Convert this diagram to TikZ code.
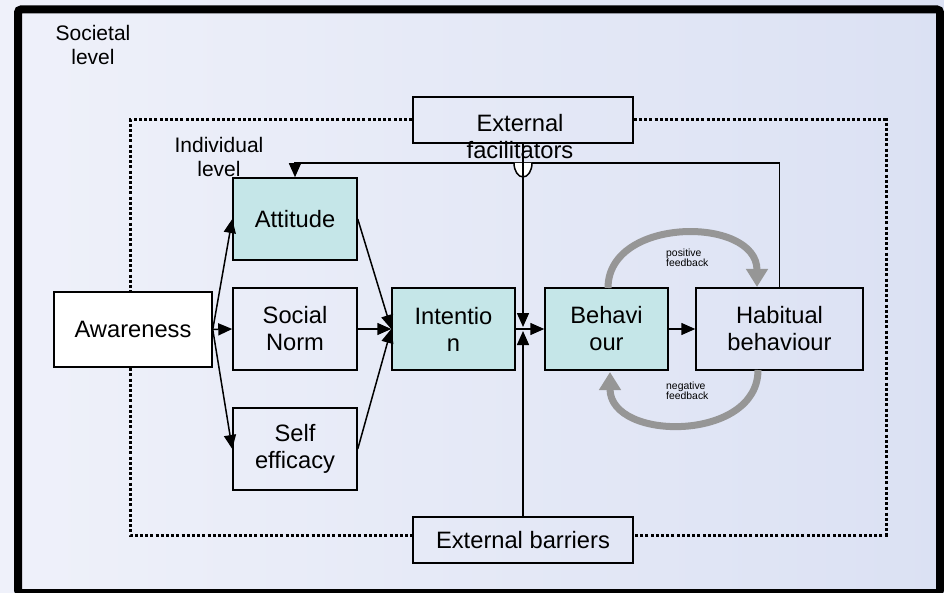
\documentclass[tikz,border=0pt]{standalone}
\usepackage{fontspec}
\setmainfont{Liberation Sans}
\usetikzlibrary{arrows.meta}

\definecolor{boxteal}{RGB}{197,230,232}
\definecolor{bgleft}{RGB}{239,241,250}
\definecolor{bgright}{RGB}{219,225,243}
\definecolor{fbgray}{RGB}{150,150,150}

\newcommand{\dgbig}{\fontsize{23.7}{27}\selectfont}
\newcommand{\dglevel}{\fontsize{21}{24}\selectfont}
\newcommand{\dgsmall}{\fontsize{10.4}{10.5}\selectfont}

\pgfdeclarelayer{paper}
\pgfdeclarelayer{boundary}
\pgfsetlayers{paper,boundary,main}

\tikzset{
  stagebox/.style={draw, line width=1.5pt, minimum width=124pt, minimum height=82pt,
                   inner sep=0pt, align=center, font=\dgbig},
  conn/.style={line width=1.5pt, -{Triangle[length=14pt,width=12pt]}},
  plainline/.style={line width=1.5pt},
  fbarrow/.style={line width=7pt, draw=fbgray, -{Triangle[length=18pt,width=21pt]}},
  dotline/.style={line width=3pt, dash pattern=on 3pt off 2.2pt},
  levellabel/.style={font=\dglevel, align=center, inner sep=0pt},
  fblabel/.style={font=\dgsmall, align=left, anchor=west, inner sep=0pt}
}

\begin{document}
\begin{tikzpicture}[x=1pt,y=-1pt]
  \useasboundingbox (0,0) rectangle (944,593);

  % background and frame
  \begin{pgfonlayer}{paper}
    \shade[left color=bgleft, right color=bgright] (0,0) rectangle (944,593);
    \draw[line width=8pt, rounded corners=3pt] (18,9.5) rectangle (940,593);
  \end{pgfonlayer}

  % level labels
  \node[levellabel] (societal) at (93,45) {Societal\\level};
  \node[levellabel] (individual) at (219,157) {Individual\\level};

  % stage boxes
  \node[stagebox, fill=white, minimum width=158pt, minimum height=75pt] (aw) at (133,329.5) {Awareness};
  \node[stagebox, fill=boxteal] (att) at (295,219) {Attitude};
  \node[stagebox] (soc) at (295,329) {Social\\Norm};
  \node[stagebox] (self) at (295,449) {Self\\efficacy};
  \node[stagebox, fill=boxteal, minimum width=123pt] (int) at (453.5,329) {Intentio\\n};
  \node[stagebox, fill=boxteal, minimum width=123pt] (beh) at (606.5,329) {Behavi\\our};
  \node[stagebox, minimum width=167pt] (hab) at (779.5,329) {Habitual\\behaviour};

  % external influences
  \node[stagebox, minimum width=220pt, minimum height=46pt] (fac) at (523,120) {};
  \node[font=\dgbig, align=center, inner sep=0pt] (factxt) at (520,137) {External\\facilitators};
  \node[stagebox, minimum width=220pt, minimum height=46pt] (bar) at (523,540) {External barriers};

  % boundary between societal and individual level
  \coordinate (dBL) at (130,535);
  \coordinate (dBR) at (886,535);
  \begin{pgfonlayer}{boundary}
    \draw[dotline] (fac.west) -| (dBL) -- (bar.west |- dBL);
    \draw[dotline] (fac.east) -| (dBR) -- (bar.east |- dBR);
  \end{pgfonlayer}

  % habit feeds back to attitude
  \coordinate (fbcorner) at (hab.north |- 0,163);
  \draw[conn] (hab.north) -- (fbcorner) -| (att.north);
  \coordinate (hop) at (523,163);
  \draw[plainline, fill=white] (514,163) arc[start angle=180, end angle=0, x radius=9, y radius=14];

  % external influences on the intention-behaviour link
  \coordinate (jtop) at (523,327);
  \coordinate (jbot) at (523,331);
  \draw[conn] (fac.south) -- (jtop);
  \draw[conn] (bar.north) -- (jbot);

  % main chain
  \draw[conn] (aw.east) -- (att.west);
  \draw[conn] (aw.east) -- (soc.west);
  \draw[conn] (aw.east) -- (self.west);
  \draw[conn] (att.east) -- (int.west);
  \draw[conn] (soc.east) -- (int.west);
  \draw[conn] (self.east) -- (int.west);
  \draw[conn] (int.east) -- (beh.west);
  \draw[conn] (beh.east) -- (hab.west);

  % feedback loops
  \coordinate (posA) at (608,288);
  \coordinate (posB) at (757,287);
  \coordinate (negA) at (758,370);
  \coordinate (negB) at (610,372);
  \draw[fbarrow] (posA) .. controls (608,216) and (757,216) .. (posB);
  \draw[fbarrow] (negA) .. controls (758,442) and (610,442) .. (negB);
  \node[fblabel] (poslab) at (666,258) {positive\\feedback};
  \node[fblabel] (neglab) at (666,391) {negative\\feedback};
\end{tikzpicture}
\end{document}
